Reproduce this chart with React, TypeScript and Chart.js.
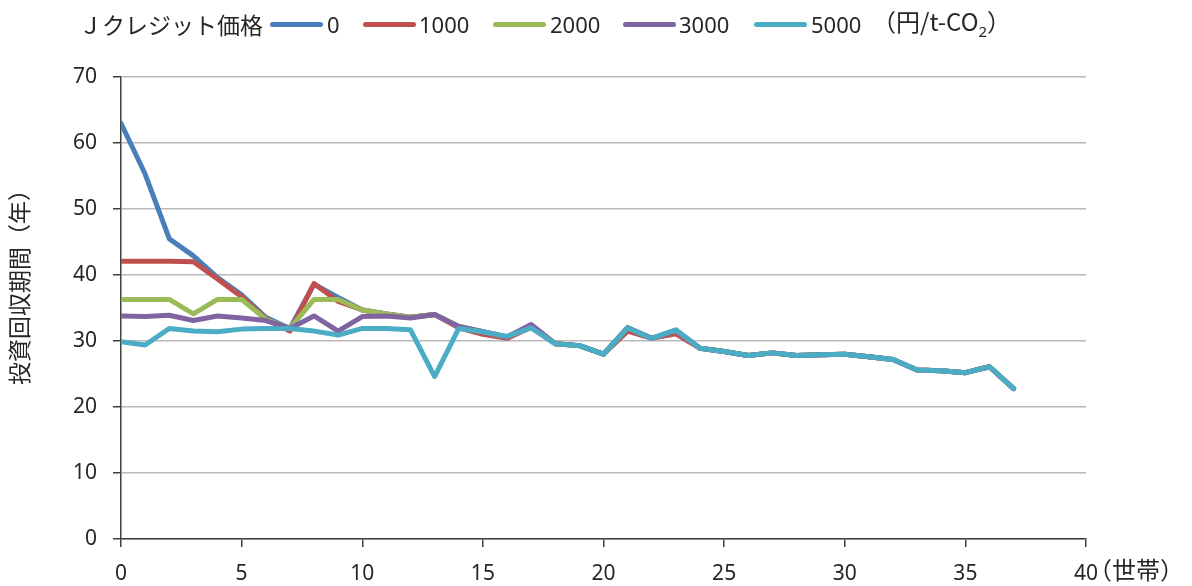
import React, { useEffect, useRef } from "react";
import { Chart, registerables } from "chart.js";

Chart.register(...registerables);

// 世帯 (x positions)
const households = [0, 1, 2, 3, 4, 5, 6, 7, 8, 9, 10, 11, 12, 13, 14, 15, 16, 17, 18, 19, 20, 21, 22, 23, 24, 25, 26, 27, 28, 29, 30, 31, 32, 33, 34, 35, 36, 37];

// 投資回収期間（年） per Jクレジット価格
const price0 = [63.0, 55.3, 45.5, 42.9, 39.6, 37.0, 33.6, 31.9, 38.6, 36.6, 34.7, 34.1, 33.6, 34.0, 32.2, 31.4, 30.6, 32.3, 29.6, 29.3, 28.0, 32.0, 30.4, 31.6, 28.9, 28.4, 27.8, 28.2, 27.8, 27.9, 28.0, 27.6, 27.2, 25.6, 25.5, 25.2, 26.1, 22.8];
const price1000 = [42.1, 42.1, 42.1, 42.0, 39.4, 36.7, 33.4, 31.5, 38.7, 36.0, 34.7, 34.1, 33.6, 34.0, 32.0, 31.0, 30.4, 32.1, 29.6, 29.3, 28.0, 31.5, 30.4, 31.1, 28.9, 28.4, 27.8, 28.2, 27.8, 27.9, 28.0, 27.6, 27.2, 25.6, 25.5, 25.2, 26.1, 22.8];
const price2000 = [36.3, 36.3, 36.3, 34.1, 36.3, 36.3, 33.3, 31.9, 36.3, 36.3, 34.7, 34.1, 33.6, 34.0, 32.2, 31.4, 30.6, 32.2, 29.6, 29.3, 28.0, 32.0, 30.4, 31.6, 28.9, 28.4, 27.8, 28.2, 27.8, 27.9, 28.0, 27.6, 27.2, 25.6, 25.5, 25.2, 26.1, 22.8];
const price3000 = [33.8, 33.7, 33.9, 33.1, 33.8, 33.5, 33.1, 31.9, 33.8, 31.5, 33.7, 33.8, 33.5, 34.0, 32.2, 31.4, 30.6, 32.5, 29.6, 29.3, 28.0, 32.0, 30.4, 31.6, 28.9, 28.4, 27.8, 28.2, 27.8, 27.9, 28.0, 27.6, 27.2, 25.6, 25.5, 25.2, 26.1, 22.8];
const price5000 = [29.9, 29.4, 31.9, 31.5, 31.4, 31.8, 31.9, 31.9, 31.5, 30.9, 31.9, 31.9, 31.7, 24.6, 31.9, 31.4, 30.7, 32.0, 29.6, 29.3, 28.0, 32.0, 30.4, 31.7, 28.9, 28.4, 27.8, 28.2, 27.8, 27.9, 28.0, 27.6, 27.2, 25.6, 25.5, 25.2, 26.1, 22.8];

const seriesNames = ["0", "1000", "2000", "3000", "5000"];
const seriesColors = ["#4a7ebb", "#c0504d", "#9bbb59", "#8064a2", "#4bacc6"];
const seriesValues = [price0, price1000, price2000, price3000, price5000];

const xTicks = [0, 5, 10, 15, 20, 25, 30, 35, 40];
const yTicks = [0, 10, 20, 30, 40, 50, 60, 70];

const legendTitle = "Ｊクレジット価格";
const yTitle = "投資回収期間（年）";
const xUnit = "（世帯）";

const TEXT = "#262626";
const NUM_FONT = "'Noto Sans', 'DejaVu Sans', sans-serif";
const CJK_FONT = "'Noto Sans CJK JP', 'Noto Sans', sans-serif";

const legendPos = [
  { line: 270, text: 327 },
  { line: 363, text: 419 },
  { line: 493, text: 550 },
  { line: 623, text: 679 },
  { line: 754, text: 811 },
];

const extraText = {
  id: "extraText",
  afterDraw(chart: any) {
    const ctx = chart.ctx;
    const xs = chart.scales.x;
    const ys = chart.scales.y;
    ctx.save();
    ctx.fillStyle = TEXT;
    // x unit
    ctx.font = `24px ${CJK_FONT}`;
    ctx.textAlign = "left";
    ctx.textBaseline = "middle";
    ctx.fillText(xUnit, xs.getPixelForValue(40) + 2, 570);
    // y title
    const cy = ys.getPixelForValue(39);
    ctx.translate(19, cy);
    ctx.rotate(-Math.PI / 2);
    ctx.font = `23px ${CJK_FONT}`;
    ctx.textAlign = "center";
    ctx.textBaseline = "middle";
    ctx.fillText(yTitle, 0, 0);
    ctx.restore();
  },
};

export default function App() {
  const ref = useRef<HTMLCanvasElement | null>(null);

  useEffect(() => {
    if (!ref.current) return;
    const datasets = seriesValues.map((vals, i) => ({
      label: seriesNames[i],
      data: households.map((h, j) => ({ x: h, y: vals[j] })),
      borderColor: seriesColors[i],
      backgroundColor: seriesColors[i],
      borderWidth: 5,
      pointRadius: 0,
      tension: 0,
      borderJoinStyle: "round" as const,
      borderCapStyle: "round" as const,
      order: 5 - i,
    }));
    const chart = new Chart(ref.current, {
      type: "line",
      data: { datasets },
      options: {
        animation: false,
        responsive: true,
        maintainAspectRatio: false,
        layout: { padding: { top: 77, right: 106, left: 0, bottom: 0 } },
        plugins: { legend: { display: false }, tooltip: { enabled: false } },
        scales: {
          x: {
            type: "linear",
            min: 0,
            max: 40,
            afterBuildTicks: (s: any) => {
              s.ticks = xTicks.map((v) => ({ value: v }));
            },
            afterFit: (s: any) => {
              s.height = 47;
            },
            ticks: {
              font: { family: NUM_FONT, size: 21 },
              color: TEXT,
              padding: 14,
              maxRotation: 0,
              autoSkip: false,
            },
            grid: {
              drawOnChartArea: false,
              drawTicks: true,
              tickLength: 8,
              tickColor: "#404040",
              lineWidth: 1.5,
            },
            border: { color: "#404040", width: 1.5 },
          },
          y: {
            type: "linear",
            min: 0,
            max: 70,
            afterBuildTicks: (s: any) => {
              s.ticks = yTicks.map((v) => ({ value: v }));
            },
            afterFit: (s: any) => {
              s.width = 121;
            },
            ticks: {
              font: { family: NUM_FONT, size: 21 },
              color: TEXT,
              padding: 16,
            },
            grid: {
              color: "#b9b9b9",
              lineWidth: 1.5,
              drawTicks: true,
              tickLength: 8,
              tickColor: "#404040",
            },
            border: { color: "#404040", width: 1.5 },
          },
        },
      },
      plugins: [extraText],
    });
    return () => chart.destroy();
  }, []);

  return (
    <div
      style={{
        position: "fixed",
        left: 0,
        top: 0,
        width: 1192,
        height: 586,
        background: "#fff",
        overflow: "hidden",
      }}
    >
      <canvas ref={ref} style={{ position: "absolute", left: 0, top: 0, width: 1192, height: 586 }} />
      <div
        style={{
          position: "absolute",
          left: 79,
          top: 24,
          transform: "translateY(-50%)",
          fontFamily: CJK_FONT,
          fontSize: 23,
          color: TEXT,
          whiteSpace: "nowrap",
          lineHeight: 1,
        }}
      >
        {legendTitle}
      </div>
      {seriesNames.map((n, i) => (
        <React.Fragment key={n}>
          <div
            style={{
              position: "absolute",
              left: legendPos[i].line,
              top: 21.5,
              width: 53,
              height: 5,
              borderRadius: 3,
              background: seriesColors[i],
            }}
          />
          <div
            style={{
              position: "absolute",
              left: legendPos[i].text,
              top: 24,
              transform: "translateY(-50%)",
              fontFamily: NUM_FONT,
              fontSize: 22,
              color: TEXT,
              lineHeight: 1,
              whiteSpace: "nowrap",
            }}
          >
            {n}
          </div>
        </React.Fragment>
      ))}
      <div
        style={{
          position: "absolute",
          left: 872,
          top: 24,
          transform: "translateY(-50%)",
          fontFamily: CJK_FONT,
          fontSize: 24,
          color: TEXT,
          lineHeight: 1,
          whiteSpace: "nowrap",
        }}
      >
        （円/t-CO<sub style={{ fontSize: 15, verticalAlign: "-6px", fontFamily: NUM_FONT }}>2</sub>）
      </div>
    </div>
  );
}
